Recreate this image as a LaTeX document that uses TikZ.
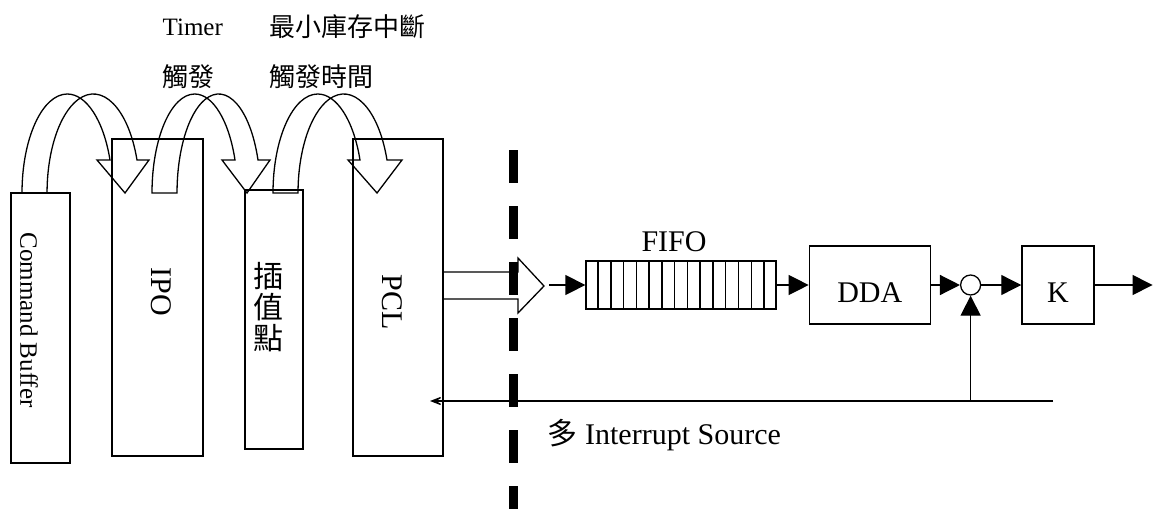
\documentclass[tikz,border=0pt]{standalone}
\usepackage{fontspec}
\setmainfont{Liberation Serif}
\newfontfamily\cjk{Noto Sans CJK TC}
\usetikzlibrary{arrows.meta,positioning,calc}

\begin{document}
\begin{tikzpicture}[
  x=0.5pt, y=-0.5pt,
  line width=0.65pt,
  unit/.style={draw,inner sep=0pt,font=\fontsize{15pt}{18pt}\selectfont},
  vtext/.style={rotate=-90,inner sep=0pt,font=\fontsize{15pt}{18pt}\selectfont},
  rtext/.style={inner sep=0pt,font=\fontsize{12.5pt}{15pt}\selectfont},
  ctext/.style={inner sep=0pt,font=\cjk\fontsize{13pt}{15pt}\selectfont},
  low text/.style={text height=17pt,text depth=0pt},
  flow/.style={-{Triangle[length=10pt,width=10pt]}},
  feedback/.style={-{Stealth[length=9pt,width=7pt,inset=6pt]}},
  divider/.style={line width=4.25pt,dash pattern=on 16.5pt off 11.5pt}
]
\useasboundingbox (0,0) rectangle (1154,509);

% stages on the left
\node[unit,minimum width=29.5pt,minimum height=135pt] (cmdbuf) at (40.5,328) {};
\node[unit,minimum width=45.5pt,minimum height=158.5pt] (ipo) at (157.5,297.5) {};
\node[unit,minimum width=29pt,minimum height=129.5pt] (interp) at (274,319.5) {};
\node[unit,minimum width=45pt,minimum height=158.5pt] (pcl) at (398,297.5) {};
\node[vtext,font=\fontsize{12.5pt}{15pt}\selectfont] (cmdbuftext) at (29,320) {Command Buffer};
\node[vtext] (ipotext) at (161,292) {IPO};
\node[inner sep=0pt,align=center,font=\cjk\fontsize{15pt}{15.5pt}\selectfont] (interptext) at (268,307) {插\\值\\點};
\node[vtext] (pcltext) at (392,302) {PCL};

% trigger labels
\node[rtext,anchor=west] (timer) at (162,27) {Timer};
\node[ctext,anchor=west] (timerfire) at (162,77) {觸發};
\node[ctext,anchor=west] (minstock) at (269,27) {最小庫存中斷};
\node[ctext,anchor=west] (stockfire) at (269,77) {觸發時間};

% curved hand-over arrows
\foreach \xo/\rx/\ry/\hl/\tip/\hr/\xb in {22/22.65/23.15/97/125/149/137,
    152/21.36/20.84/222/247/270/258, 273/22.39/22.90/348/377/402/387}
  \draw ({\xo+25},193) -- (\xo,193)
    arc[start angle=180,end angle=19.47,x radius=\rx pt,y radius=49.5pt]
    -- (\hl,160) -- (\tip,193) -- (\hr,160) -- (\xb,160)
    arc[start angle=19.47,end angle=180,x radius=\ry pt,y radius=49.5pt] -- cycle;

% block arrow out of PCL
\draw (443,272) -- (518,272) -- (518,258) -- (544,286) -- (518,313) -- (518,299) -- (443,299);

% servo chain
\node[unit,minimum width=95pt,minimum height=24pt] (fifo) at (681,285) {};
\foreach \i in {1,...,14}
  \draw ($(fifo.north west)!\i/15!(fifo.north east)$) -- ($(fifo.south west)!\i/15!(fifo.south east)$);
\node[above=4pt of fifo,xshift=-3.5pt,inner sep=0pt,font=\fontsize{15pt}{18pt}\selectfont] (fifolabel) {FIFO};
\node[unit,low text,right=16pt of fifo,minimum width=60.5pt,minimum height=39pt] (dda) {DDA};
\node[draw,circle,inner sep=0pt,minimum size=10pt,right=14.5pt of dda] (sum) {};
\node[unit,low text,right=20pt of sum,minimum width=36pt,minimum height=39pt] (gain) {K};
\coordinate[right=29pt of gain] (out);
\coordinate (fifoin) at (549,285);
\draw[flow] (fifoin) -- (fifo);
\draw[flow] (fifo) -- (dda);
\draw[flow] (dda) -- (sum);
\draw[flow] (sum) -- (gain);
\draw[flow] (gain) -- (out);

% interrupt feedback
\coordinate (fbright) at (1053,401);
\coordinate (fbleft) at (430,401);
\draw[feedback] (fbright) -- (fbleft);
\draw[flow] (sum |- fbright) -- (sum);
\node[anchor=west,inner sep=0pt,font=\fontsize{15pt}{18pt}\selectfont] (irqsrc) at (547,435) {{\cjk 多} Interrupt Source};

% split line
\draw[divider] (513.5,150) -- (513.5,509);
\end{tikzpicture}
\end{document}
